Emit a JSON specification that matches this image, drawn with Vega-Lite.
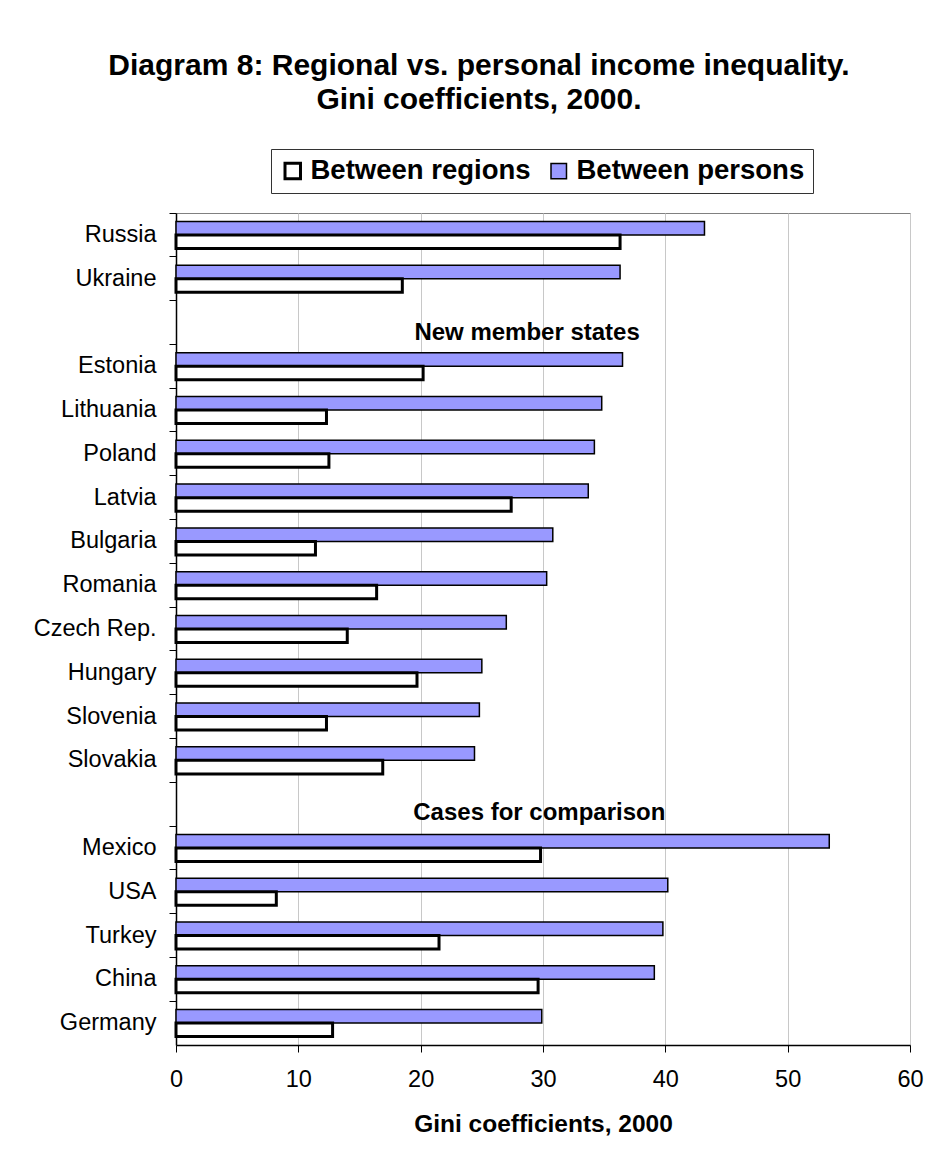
{
  "$schema": "https://vega.github.io/schema/vega-lite/v6.json",
  "autosize": {"type": "none"},
  "width": 734,
  "height": 832,
  "padding": {"left": 176, "top": 213, "right": 29, "bottom": 108},
  "background": "white",
  "title": {
    "text": ["Diagram 8: Regional vs. personal income inequality.", "Gini coefficients, 2000."],
    "font": "Liberation Sans",
    "fontSize": 30,
    "fontWeight": "bold",
    "color": "black",
    "lineHeight": 34,
    "anchor": "middle",
    "frame": "group",
    "dx": -64,
    "offset": 34
  },
  "config": {
    "font": "Liberation Sans",
    "view": {"stroke": "#808080", "strokeWidth": 1},
    "axis": {
      "labelFont": "Liberation Sans",
      "titleFont": "Liberation Sans",
      "labelColor": "black",
      "titleColor": "black",
      "domainColor": "black",
      "tickColor": "black"
    }
  },
  "layer": [
    {
      "data": {
        "values": [
          {"country": "Russia", "series": "Between persons", "gini": 43.2},
          {"country": "Russia", "series": "Between regions", "gini": 36.3},
          {"country": "Ukraine", "series": "Between persons", "gini": 36.3},
          {"country": "Ukraine", "series": "Between regions", "gini": 18.5},
          {"country": "Estonia", "series": "Between persons", "gini": 36.5},
          {"country": "Estonia", "series": "Between regions", "gini": 20.2},
          {"country": "Lithuania", "series": "Between persons", "gini": 34.8},
          {"country": "Lithuania", "series": "Between regions", "gini": 12.3},
          {"country": "Poland", "series": "Between persons", "gini": 34.2},
          {"country": "Poland", "series": "Between regions", "gini": 12.5},
          {"country": "Latvia", "series": "Between persons", "gini": 33.7},
          {"country": "Latvia", "series": "Between regions", "gini": 27.4},
          {"country": "Bulgaria", "series": "Between persons", "gini": 30.8},
          {"country": "Bulgaria", "series": "Between regions", "gini": 11.4},
          {"country": "Romania", "series": "Between persons", "gini": 30.3},
          {"country": "Romania", "series": "Between regions", "gini": 16.4},
          {"country": "Czech Rep.", "series": "Between persons", "gini": 27.0},
          {"country": "Czech Rep.", "series": "Between regions", "gini": 14.0},
          {"country": "Hungary", "series": "Between persons", "gini": 25.0},
          {"country": "Hungary", "series": "Between regions", "gini": 19.7},
          {"country": "Slovenia", "series": "Between persons", "gini": 24.8},
          {"country": "Slovenia", "series": "Between regions", "gini": 12.3},
          {"country": "Slovakia", "series": "Between persons", "gini": 24.4},
          {"country": "Slovakia", "series": "Between regions", "gini": 16.9},
          {"country": "Mexico", "series": "Between persons", "gini": 53.4},
          {"country": "Mexico", "series": "Between regions", "gini": 29.8},
          {"country": "USA", "series": "Between persons", "gini": 40.2},
          {"country": "USA", "series": "Between regions", "gini": 8.2},
          {"country": "Turkey", "series": "Between persons", "gini": 39.8},
          {"country": "Turkey", "series": "Between regions", "gini": 21.5},
          {"country": "China", "series": "Between persons", "gini": 39.1},
          {"country": "China", "series": "Between regions", "gini": 29.6},
          {"country": "Germany", "series": "Between persons", "gini": 29.9},
          {"country": "Germany", "series": "Between regions", "gini": 12.8}
        ]
      },
      "mark": {"type": "bar", "stroke": "black", "opacity": 1},
      "encoding": {
        "y": {
          "field": "country",
          "type": "nominal",
          "scale": {
            "domain": ["Russia", "Ukraine", " ", "Estonia", "Lithuania", "Poland", "Latvia", "Bulgaria", "Romania", "Czech Rep.", "Hungary", "Slovenia", "Slovakia", "  ", "Mexico", "USA", "Turkey", "China", "Germany"],
            "paddingInner": 0,
            "paddingOuter": 0
          },
          "axis": {
            "title": null,
            "labelFontSize": 23.5,
            "labelPadding": 13,
            "tickSize": 7,
            "bandPosition": 0,
            "grid": false,
            "domainWidth": 1.5
          }
        },
        "yOffset": {
          "field": "series",
          "type": "nominal",
          "scale": {"domain": ["Between persons", "Between regions"], "paddingInner": 0, "paddingOuter": 0.62}
        },
        "x": {
          "field": "gini",
          "type": "quantitative",
          "scale": {"domain": [0, 60], "nice": false},
          "axis": {
            "values": [0, 10, 20, 30, 40, 50, 60],
            "title": "Gini coefficients, 2000",
            "titleFontSize": 24.5,
            "titleFontWeight": "bold",
            "titlePadding": 22,
            "labelFontSize": 23.5,
            "labelPadding": 15,
            "labelFlush": false,
            "tickSize": 7,
            "gridColor": "#c8c8c8",
            "grid": true,
            "domainWidth": 1.5
          }
        },
        "color": {
          "field": "series",
          "type": "nominal",
          "scale": {"domain": ["Between regions", "Between persons"], "range": ["#ffffff", "#9999ff"]},
          "legend": {
            "title": null,
            "orient": "none",
            "legendX": 95,
            "legendY": -64,
            "direction": "horizontal",
            "columns": 2,
            "symbolType": "square",
            "symbolSize": 240,
            "symbolStrokeColor": "black",
            "symbolStrokeWidth": 2.2,
            "symbolOpacity": 1,
            "labelFont": "Liberation Sans",
            "labelFontSize": 27.5,
            "labelFontWeight": "bold",
            "labelColor": "black",
            "labelLimit": 400,
            "labelOffset": 4,
            "columnPadding": 14,
            "padding": 8,
            "strokeColor": "#333333",
            "fillColor": "white"
          }
        },
        "strokeWidth": {
          "field": "series",
          "type": "nominal",
          "scale": {"domain": ["Between regions", "Between persons"], "range": [3, 1.5]},
          "legend": null
        }
      }
    },
    {
      "data": {"values": [{"row": " ", "label": "New member states"}]},
      "mark": {"type": "text", "font": "Liberation Sans", "fontSize": 24, "fontWeight": "bold", "color": "black", "align": "center", "baseline": "alphabetic", "dy": 18},
      "encoding": {
        "y": {"field": "row", "type": "nominal"},
        "x": {"datum": 28.7},
        "text": {"field": "label"}
      }
    },
    {
      "data": {"values": [{"row": "  ", "label": "Cases for comparison"}]},
      "mark": {"type": "text", "font": "Liberation Sans", "fontSize": 24, "fontWeight": "bold", "color": "black", "align": "center", "baseline": "alphabetic", "dy": 16},
      "encoding": {
        "y": {"field": "row", "type": "nominal"},
        "x": {"datum": 29.7},
        "text": {"field": "label"}
      }
    }
  ]
}
